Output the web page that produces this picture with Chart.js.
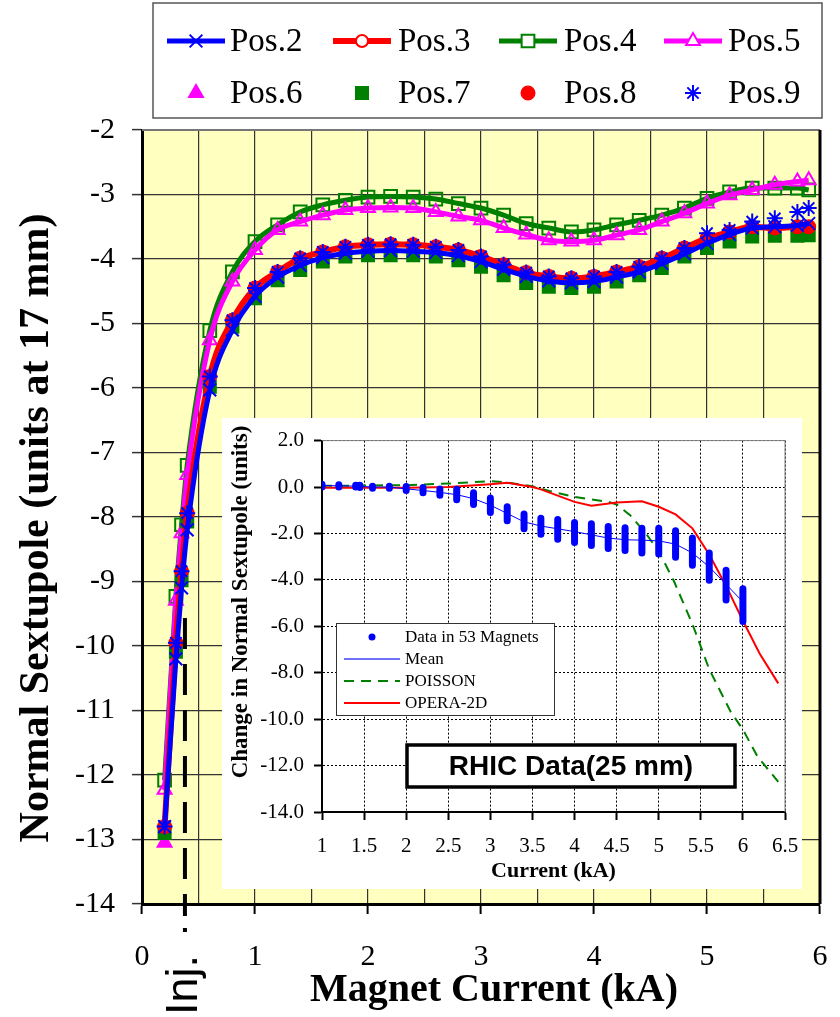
<!DOCTYPE html>
<html>
<head>
<meta charset="utf-8">
<title>Normal sextupole vs magnet current</title>
<script src="https://cdn.jsdelivr.net/npm/chart.js@4/dist/chart.umd.min.js"></script>
<style>
  html, body { margin: 0; padding: 0; background: #fff; }
  #wrap { position: relative; width: 840px; height: 1017px; overflow: hidden; }
  #main { position: absolute; left: 0; top: 0; }
  #inset { position: absolute; left: 222px; top: 418px; background: #fff; }
</style>
</head>
<body>
<div id="wrap">
  <canvas id="main" width="840" height="1017"></canvas>
  <canvas id="inset" width="580" height="471"></canvas>
</div>
<script>
// --- Main chart data (kA, units at 17 mm) ---
const currents = [0.2, 0.3, 0.35, 0.4, 0.6, 0.8, 1.0, 1.2, 1.4, 1.6, 1.8, 2.0, 2.2, 2.4, 2.6, 2.8, 3.0, 3.2, 3.4, 3.6, 3.8, 4.0, 4.2, 4.4, 4.6, 4.8, 5.0, 5.2, 5.4, 5.6, 5.8, 5.9];
const pos2 = [-12.8, -10.2, -9.1, -8.2, -6.03, -5.1, -4.58, -4.28, -4.1, -3.98, -3.91, -3.88, -3.87, -3.88, -3.9, -3.95, -4.04, -4.16, -4.27, -4.34, -4.37, -4.35, -4.28, -4.2, -4.07, -3.92, -3.76, -3.62, -3.52, -3.5, -3.48, -3.45];
const pos3 = [-12.8, -9.95, -8.84, -7.94, -5.82, -4.95, -4.45, -4.2, -3.99, -3.89, -3.81, -3.78, -3.77, -3.78, -3.81, -3.86, -3.96, -4.09, -4.21, -4.27, -4.3, -4.27, -4.2, -4.12, -3.99, -3.83, -3.68, -3.58, -3.5, -3.52, -3.5, -3.5];
const pos4 = [-12.08, -9.23, -8.12, -7.2, -5.11, -4.2, -3.73, -3.47, -3.27, -3.16, -3.09, -3.04, -3.03, -3.04, -3.07, -3.14, -3.21, -3.32, -3.45, -3.52, -3.58, -3.55, -3.47, -3.4, -3.32, -3.21, -3.06, -2.96, -2.9, -2.9, -2.9, -2.93];
const pos5 = [-12.23, -9.3, -8.25, -7.35, -5.26, -4.35, -3.86, -3.55, -3.42, -3.32, -3.24, -3.21, -3.2, -3.21, -3.27, -3.34, -3.4, -3.52, -3.62, -3.71, -3.73, -3.71, -3.63, -3.55, -3.42, -3.29, -3.14, -3.01, -2.93, -2.85, -2.8, -2.78];
const pos6Currents = [0.2];
const pos6 = [-13.05];
const pos7 = [-12.9, -10.09, -8.98, -8.07, -5.98, -5.05, -4.61, -4.33, -4.17, -4.04, -3.96, -3.94, -3.94, -3.94, -3.96, -4.02, -4.12, -4.25, -4.37, -4.43, -4.45, -4.43, -4.35, -4.25, -4.14, -3.96, -3.83, -3.73, -3.65, -3.64, -3.64, -3.63];
const pos8 = [-12.8, -9.95, -8.84, -7.94, -5.82, -4.95, -4.45, -4.2, -3.99, -3.89, -3.81, -3.78, -3.77, -3.78, -3.81, -3.86, -3.96, -4.09, -4.21, -4.27, -4.3, -4.27, -4.2, -4.12, -3.99, -3.83, -3.68, -3.58, -3.5, -3.52, -3.5, -3.5];
const pos9 = [-12.8, -9.95, -8.84, -7.94, -5.82, -4.95, -4.45, -4.2, -3.99, -3.89, -3.81, -3.78, -3.77, -3.78, -3.81, -3.86, -3.96, -4.09, -4.21, -4.27, -4.3, -4.27, -4.2, -4.12, -3.99, -3.83, -3.6, -3.55, -3.42, -3.37, -3.27, -3.21];
const injectionCurrent = 0.38;

// --- Inset data (RHIC, change in units at 25 mm) ---
const magnetCurrents = [1.0, 1.2, 1.4, 1.45, 1.6, 1.8, 2.0, 2.2, 2.4, 2.6, 2.8, 3.0, 3.2, 3.4, 3.6, 3.8, 4.0, 4.2, 4.4, 4.6, 4.8, 5.0, 5.2, 5.4, 5.6, 5.8, 6.0];
const magnetHigh = [0.12, 0.1, 0.08, 0.08, 0.03, 0.03, 0.02, -0.02, -0.08, -0.1, -0.25, -0.47, -0.85, -1.16, -1.35, -1.4, -1.53, -1.58, -1.7, -1.75, -1.78, -1.78, -1.88, -2.2, -2.84, -3.58, -4.38];
const magnetLow = [0.0, 0.0, 0.0, -0.02, -0.05, -0.05, -0.15, -0.25, -0.35, -0.55, -0.75, -1.1, -1.45, -1.8, -2.03, -2.25, -2.39, -2.52, -2.65, -2.73, -2.84, -2.88, -3.03, -3.37, -4.02, -4.87, -5.79];
const meanValues = [0.07, 0.05, 0.04, 0.03, 0.0, 0.0, -0.08, -0.15, -0.23, -0.33, -0.5, -0.78, -1.14, -1.5, -1.68, -1.8, -1.92, -2.06, -2.2, -2.27, -2.29, -2.32, -2.46, -2.84, -3.44, -4.19, -4.95];
const poissonCurrents = [1.0, 2.0, 2.5, 3.0, 3.2, 3.5, 3.7, 4.0, 4.4, 4.5, 4.66, 4.86, 5.0, 5.18, 5.4, 5.6, 5.85, 6.0, 6.17, 6.42];
const poissonValues = [0.05, 0.08, 0.15, 0.25, 0.2, 0.03, -0.17, -0.43, -0.64, -0.75, -1.21, -2.06, -2.77, -4.05, -5.9, -7.85, -9.65, -10.45, -11.59, -12.7];
const operaCurrents = [1.0, 2.0, 2.5, 3.0, 3.2, 3.5, 3.6, 4.0, 4.2, 4.5, 4.8, 5.0, 5.2, 5.4, 5.6, 5.8, 6.0, 6.2, 6.42];
const operaValues = [-0.03, -0.03, 0.0, 0.12, 0.18, 0.0, -0.1, -0.64, -0.81, -0.67, -0.61, -0.85, -1.18, -1.78, -2.91, -4.26, -5.76, -7.18, -8.46];

const SERIF = '"Liberation Serif", "Times New Roman", serif';
const SANS = '"Liberation Sans", Arial, sans-serif';

const pts = (xs, ys) => xs.map((x, i) => ({ x: x, y: ys[i] }));

function drawMarker(ctx, style, radius, x, y) {
    if (Chart.helpers && Chart.helpers.drawPoint) {
        Chart.helpers.drawPoint(ctx, { pointStyle: style, radius: radius, rotation: 0, borderWidth: ctx.lineWidth }, x, y);
        return;
    }
    ctx.beginPath();
    ctx.arc(x, y, radius, 0, Math.PI * 2);
    ctx.fill();
    ctx.stroke();
}

function rotatedText(ctx, text, font, x, y) {
    ctx.save();
    ctx.translate(x, y);
    ctx.rotate(-Math.PI / 2);
    ctx.font = font;
    ctx.fillStyle = '#000';
    ctx.textAlign = 'center';
    ctx.textBaseline = 'middle';
    ctx.fillText(text, 0, 0);
    ctx.restore();
}

// x axis keeps a fixed height and no extra side padding
const fixHeight = h => s => { s.height = h; s.paddingLeft = 0; s.paddingRight = 0; };

// --- Main chart ---
function lineSeries(label, ys, color, style, radius, hollowFill, width, order) {
    return {
        label: label, data: pts(currents, ys), showLine: true,
        borderColor: color, borderWidth: width, cubicInterpolationMode: 'monotone',
        pointStyle: style, pointRadius: radius, pointBorderWidth: 2,
        pointBorderColor: color, pointBackgroundColor: hollowFill,
        order: order
    };
}
function markerSeries(label, xs, ys, color, style, radius, order) {
    return {
        label: label, data: pts(xs, ys), showLine: false,
        borderColor: color, backgroundColor: color,
        pointStyle: style, pointRadius: radius, pointBorderWidth: 2,
        pointBorderColor: color, pointBackgroundColor: color,
        order: order
    };
}

const mainDatasets = [
    lineSeries('Pos.2', pos2, '#0000ff', 'crossRot', 9, '#0000ff', 5, 2),
    lineSeries('Pos.3', pos3, '#ff0000', 'circle', 6, '#ffffff', 6, 4),
    lineSeries('Pos.4', pos4, '#008000', 'rect', 9, 'rgba(0,0,0,0)', 5, 8),
    lineSeries('Pos.5', pos5, '#ff00ff', 'triangle', 8, 'rgba(0,0,0,0)', 5, 7),
    markerSeries('Pos.6', pos6Currents, pos6, '#ff00ff', 'triangle', 8, 6),
    markerSeries('Pos.7', currents, pos7, '#008000', 'rect', 8.5, 5),
    markerSeries('Pos.8', currents, pos8, '#ff0000', 'circle', 6.5, 3),
    markerSeries('Pos.9', currents, pos9, '#0000ff', 'star', 8, 1)
];

const mainDecor = {
    id: 'mainDecor',
    beforeDraw(chart) {
        const { ctx, chartArea: a } = chart;
        ctx.save();
        ctx.fillStyle = '#ffffc0';
        ctx.fillRect(a.left, a.top, a.right - a.left, a.bottom - a.top);
        ctx.restore();
    },
    beforeDatasetsDraw(chart) {
        const { ctx, chartArea: a } = chart;
        ctx.save();
        ctx.strokeStyle = '#777';
        ctx.lineWidth = 2;
        ctx.beginPath(); ctx.moveTo(a.left, a.top); ctx.lineTo(a.right, a.top); ctx.stroke();
        ctx.strokeStyle = '#000';
        ctx.lineWidth = 3;
        ctx.beginPath(); ctx.moveTo(a.right, a.top); ctx.lineTo(a.right, a.bottom); ctx.stroke();
        ctx.restore();
    },
    afterDraw(chart) {
        const ctx = chart.ctx;
        const xInj = chart.scales.x.getPixelForValue(injectionCurrent);

        // axis titles
        ctx.save();
        ctx.fillStyle = '#000';
        ctx.font = 'bold 40px ' + SERIF;
        ctx.textAlign = 'center';
        ctx.textBaseline = 'middle';
        ctx.fillText('Magnet Current (kA)', 494, 991);
        ctx.restore();
        rotatedText(ctx, 'Normal Sextupole (units at 17 mm)', 'bold 42px ' + SERIF, 37, 528);

        // injection marker
        ctx.save();
        ctx.strokeStyle = '#000';
        ctx.lineWidth = 4;
        ctx.setLineDash([31, 15]);
        ctx.beginPath(); ctx.moveTo(xInj, 618); ctx.lineTo(xInj, 916); ctx.stroke();
        ctx.setLineDash([]);
        ctx.fillStyle = '#000';
        ctx.fillRect(xInj - 2, 928, 4, 4);
        ctx.translate(xInj + 12, 985);
        ctx.rotate(-Math.PI / 2);
        ctx.font = '45px ' + SANS;
        ctx.textAlign = 'center';
        ctx.textBaseline = 'alphabetic';
        ctx.fillText('Inj.', 0, 0);
        ctx.restore();

        // legend box
        ctx.save();
        ctx.fillStyle = '#fff';
        ctx.fillRect(153, 3, 669, 115);
        ctx.strokeStyle = '#555';
        ctx.lineWidth = 1.5;
        ctx.strokeRect(153, 3, 669, 115);
        const sampleX = [167, 333, 499, 664];
        const textX = [230, 398, 564, 728];
        const rowY = [41, 93];
        ctx.font = '33px ' + SERIF;
        ctx.textBaseline = 'middle';
        chart.data.datasets.forEach((ds, i) => {
            const row = i < 4 ? 0 : 1;
            const col = i % 4;
            const y = rowY[row];
            const cx = sampleX[col] + 29;
            if (ds.showLine) {
                ctx.strokeStyle = ds.borderColor;
                ctx.lineWidth = ds.borderWidth;
                ctx.beginPath(); ctx.moveTo(sampleX[col], y); ctx.lineTo(sampleX[col] + 58, y); ctx.stroke();
            }
            ctx.strokeStyle = ds.pointBorderColor;
            ctx.fillStyle = ds.pointBackgroundColor === 'rgba(0,0,0,0)' ? '#fff' : ds.pointBackgroundColor;
            ctx.lineWidth = 2;
            drawMarker(ctx, ds.pointStyle, ds.pointRadius, cx, y);
            ctx.fillStyle = '#000';
            ctx.fillText(ds.label, textX[col], y + 1);
        });
        ctx.restore();
    }
};

new Chart(document.getElementById('main'), {
    type: 'scatter',
    data: { datasets: mainDatasets },
    options: {
        responsive: false, animation: false, devicePixelRatio: 1,
        layout: { autoPadding: false, padding: { top: 130, right: 20, left: 0, bottom: 0 } },
        plugins: { legend: { display: false }, tooltip: { enabled: false } },
        scales: {
            x: {
                type: 'linear', min: 0, max: 6,
                afterFit: fixHeight(113),
                ticks: {
                    stepSize: 0.5, autoSkip: false, maxRotation: 0, padding: 25, color: '#000',
                    font: { family: SERIF, size: 30 },
                    callback: v => Number.isInteger(v) ? String(v) : ''
                },
                grid: {
                    color: '#333', lineWidth: 1.2, tickLength: 10, tickWidth: 2,
                    tickColor: c => (c.tick && Number.isInteger(c.tick.value)) ? '#000' : 'rgba(0,0,0,0)'
                },
                border: { color: '#000', width: 3 }
            },
            y: {
                type: 'linear', min: -14, max: -2,
                afterFit: s => { s.width = 142; },
                ticks: { stepSize: 1, padding: 17, color: '#000', font: { family: SERIF, size: 30 } },
                grid: { color: '#333', lineWidth: 1.2, tickLength: 10, tickWidth: 1.5, tickColor: '#333' },
                border: { color: '#000', width: 3 }
            }
        }
    },
    plugins: [mainDecor]
});

// --- Inset chart ---
const magnetBands = [];
magnetCurrents.forEach((x, i) => {
    magnetBands.push({ x: x, y: magnetHigh[i] }, { x: x, y: magnetLow[i] }, { x: x, y: null });
});

const insetDecor = {
    id: 'insetDecor',
    beforeDatasetsDraw(chart) {
        const { ctx, chartArea: a } = chart;
        ctx.save();
        ctx.strokeStyle = '#808080';
        ctx.lineWidth = 1;
        ctx.beginPath();
        ctx.moveTo(a.left, a.top); ctx.lineTo(a.right, a.top); ctx.lineTo(a.right, a.bottom);
        ctx.stroke();
        ctx.restore();
    },
    afterDraw(chart) {
        const ctx = chart.ctx;
        rotatedText(ctx, 'Change in Normal Sextupole (units)', 'bold 23px ' + SERIF, 19, 184);

        ctx.save();
        // legend
        ctx.fillStyle = '#fff';
        ctx.fillRect(114, 205, 218, 92);
        ctx.strokeStyle = '#333';
        ctx.lineWidth = 1;
        ctx.strokeRect(114.5, 205.5, 218, 92);
        const rows = [219, 241, 263, 285];
        ctx.font = '17px ' + SERIF;
        ctx.textBaseline = 'middle';
        ctx.fillStyle = '#0000ff';
        ctx.beginPath(); ctx.arc(150, rows[0], 3.5, 0, Math.PI * 2); ctx.fill();
        ctx.strokeStyle = '#7070ff'; ctx.lineWidth = 2;
        ctx.beginPath(); ctx.moveTo(122, rows[1]); ctx.lineTo(178, rows[1]); ctx.stroke();
        ctx.strokeStyle = '#008000'; ctx.setLineDash([10, 7]);
        ctx.beginPath(); ctx.moveTo(122, rows[2]); ctx.lineTo(178, rows[2]); ctx.stroke();
        ctx.setLineDash([]);
        ctx.strokeStyle = '#ff0000';
        ctx.beginPath(); ctx.moveTo(122, rows[3]); ctx.lineTo(178, rows[3]); ctx.stroke();
        ctx.fillStyle = '#000';
        ['Data in 53 Magnets', 'Mean', 'POISSON', 'OPERA-2D'].forEach((t, i) => ctx.fillText(t, 183, rows[i] + 1));

        // RHIC label
        ctx.fillStyle = '#fff';
        ctx.fillRect(185, 327, 328, 42);
        ctx.strokeStyle = '#000';
        ctx.lineWidth = 3.5;
        ctx.strokeRect(185, 327, 328, 42);
        ctx.fillStyle = '#000';
        ctx.font = 'bold 28px ' + SANS;
        ctx.textAlign = 'center';
        ctx.fillText('RHIC Data(25 mm)', 349, 349);
        ctx.restore();
    }
};

new Chart(document.getElementById('inset'), {
    type: 'scatter',
    data: {
        datasets: [
            {
                label: 'Data in 53 Magnets', data: magnetBands, showLine: true, spanGaps: false,
                borderColor: '#0000ff', borderWidth: 7, borderCapStyle: 'round', pointRadius: 0, order: 1
            },
            {
                label: 'Mean', data: pts(magnetCurrents, meanValues), showLine: true,
                borderColor: '#0000ff', borderWidth: 1, pointRadius: 0, order: 0
            },
            {
                label: 'POISSON', data: pts(poissonCurrents, poissonValues), showLine: true,
                borderColor: '#008000', borderWidth: 2, borderDash: [10, 7], pointRadius: 0, order: 3
            },
            {
                label: 'OPERA-2D', data: pts(operaCurrents, operaValues), showLine: true,
                borderColor: '#ff0000', borderWidth: 2, pointRadius: 0, order: 2
            }
        ]
    },
    options: {
        responsive: false, animation: false, devicePixelRatio: 1,
        layout: { autoPadding: false, padding: { top: 20, right: 17, left: 0, bottom: 0 } },
        plugins: { legend: { display: false }, tooltip: { enabled: false } },
        scales: {
            x: {
                type: 'linear', min: 1, max: 6.5,
                afterFit: fixHeight(77),
                ticks: {
                    stepSize: 0.5, autoSkip: false, maxRotation: 0, padding: 14, color: '#000',
                    font: { family: SERIF, size: 21 }, callback: v => String(v)
                },
                grid: { color: '#000', lineWidth: 1, tickLength: 8, tickWidth: 2, tickColor: '#000' },
                border: { color: '#000', width: 2, dash: [2, 2] },
                title: {
                    display: true, text: 'Current (kA)', color: '#000',
                    font: { family: SERIF, size: 22, weight: 'bold', lineHeight: 1.2 },
                    padding: { top: 0, bottom: 4 }
                }
            },
            y: {
                type: 'linear', min: -14, max: 2,
                afterFit: s => { s.width = 100; },
                ticks: { stepSize: 2, padding: 10, color: '#000', font: { family: SERIF, size: 21 }, callback: v => v.toFixed(1) },
                grid: { color: '#000', lineWidth: 1, tickLength: 8, tickWidth: 2, tickColor: '#000' },
                border: { color: '#000', width: 2, dash: [2, 2] }
            }
        }
    },
    plugins: [insetDecor]
});
</script>
</body>
</html>
